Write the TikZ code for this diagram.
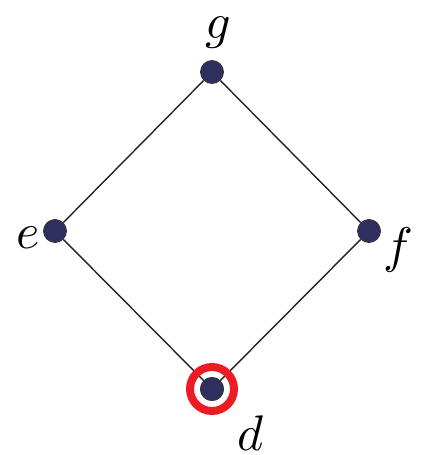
\documentclass[tikz,border=0pt]{standalone}
\definecolor{dotblue}{RGB}{47,47,96}
\definecolor{ringred}{RGB}{237,28,36}
\definecolor{edgegray}{RGB}{35,35,35}
\begin{document}
\begin{tikzpicture}[x=1pt,y=-1pt,
  vert/.style={circle,fill=dotblue,draw=black!80,line width=0.8pt,minimum size=23pt,inner sep=0pt},
  edge/.style={draw=edgegray,line width=1.4pt},
  lab/.style={scale=5,anchor=base,inner sep=0pt},
  ring/.style={draw=ringred,line width=8pt}]
\useasboundingbox (0,0) rectangle (421,455);
\node[vert] (g) at (212,72) {};
\node[vert] (e) at (55,231) {};
\node[vert] (f) at (369,231) {};
\node[vert] (d) at (212,389) {};
\draw[edge] (g) -- (e);
\draw[edge] (g) -- (f);
\draw[edge] (e) -- (d);
\draw[edge] (f) -- (d);
\node[vert] at (d) {};
\draw[ring] (d.center) circle (22);
\node[lab] (lg) at (218,38) {$g$};
\node[lab] (le) at (28,248) {$e$};
\node[lab] (lf) at (398,262) {$f$};
\node[lab] (ld) at (251,450) {$d$};
\end{tikzpicture}
\end{document}
